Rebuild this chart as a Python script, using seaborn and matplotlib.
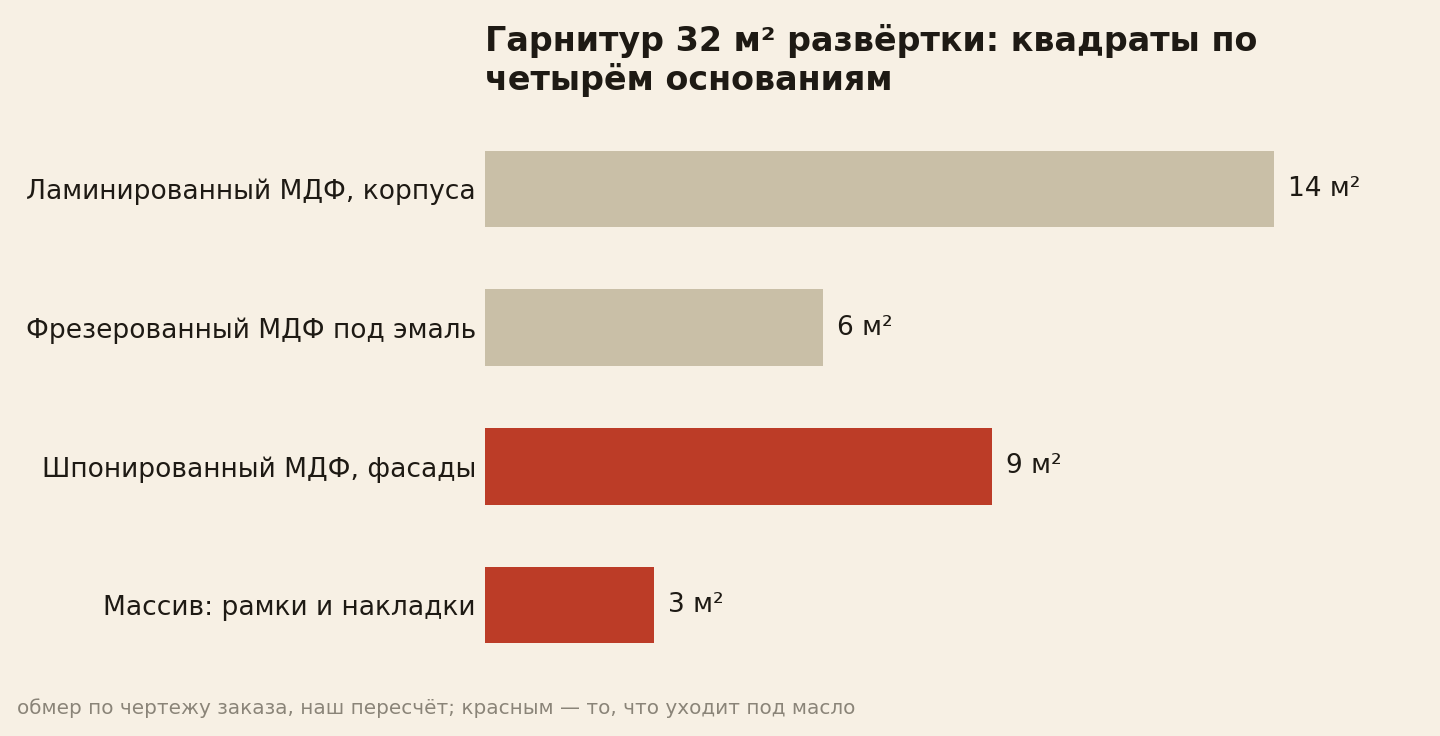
import matplotlib
matplotlib.use("Agg")
import matplotlib.pyplot as plt
import seaborn as sns
import pandas as pd

categories = ["Ламинированный МДФ, корпуса", "Фрезерованный МДФ под эмаль",
              "Шпонированный МДФ, фасады", "Массив: рамки и накладки"]
values = [14, 6, 9, 3]
oiled = [False, False, True, True]
value_labels = ["14 м²", "6 м²", "9 м²", "3 м²"]
title = "Гарнитур 32 м² развёртки: квадраты по\nчетырём основаниям"
footer = "обмер по чертежу заказа, наш пересчёт; красным — то, что уходит под масло"

BG = "#F7F0E4"
BEIGE = "#C9BFA7"
RED = "#BC3C27"
TEXT = "#1E1A14"
GRAY = "#8A8478"

sns.set_theme(style="white")
plt.rcParams["font.family"] = ["DejaVu Sans"]

df = pd.DataFrame({"cat": categories, "val": values,
                   "grp": ["red" if o else "beige" for o in oiled]})

fig = plt.figure(figsize=(14.4, 7.36), dpi=100, facecolor=BG)
ax = fig.add_axes([485/1440, 1-674.5/736, (1387-485)/1440, (674.5-119.5)/736])
ax.set_facecolor(BG)

sns.barplot(data=df, x="val", y="cat", hue="grp",
            palette={"beige": BEIGE, "red": RED}, dodge=False,
            width=0.55, legend=False, ax=ax, saturation=1, linewidth=0)

ax.set_xlim(0, 16)
ax.set_ylim(3.5, -0.5)
ax.set_xlabel("")
ax.set_ylabel("")
ax.set_xticks([])
ax.tick_params(axis="y", length=0, pad=6.5, labelsize=19.1, labelcolor=TEXT)
for s in ax.spines.values():
    s.set_visible(False)

for i, (v, lab) in enumerate(zip(values, value_labels)):
    ax.annotate(lab, xy=(v, i), xytext=(10, 0), textcoords="offset points",
                va="center", ha="left", fontsize=19, color=TEXT)

fig.text(485/1440, 1-24/736, title, ha="left", va="top", fontsize=24,
         fontweight="bold", color=TEXT, linespacing=1.2)
fig.text(17/1440, 1-708/736, footer, ha="left", va="center", fontsize=14.4,
         color=GRAY)

fig.savefig("out.png", dpi=100, facecolor=BG)
